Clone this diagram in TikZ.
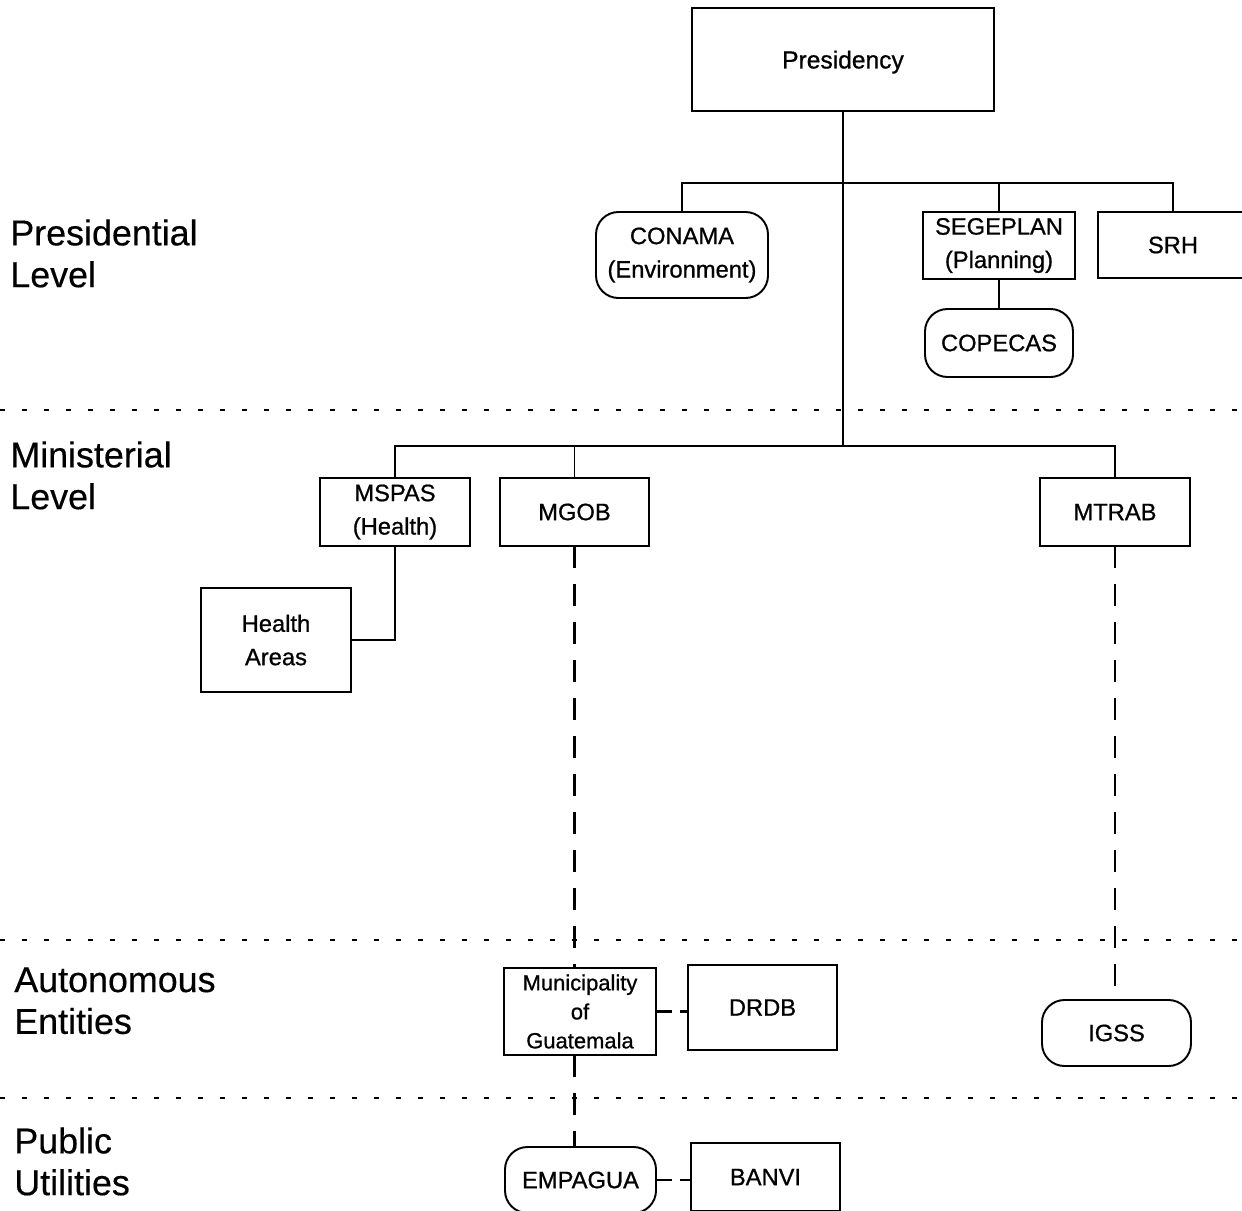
\documentclass[tikz,border=0pt]{standalone}
\usepackage{fontspec}
\setmainfont{Liberation Sans}
\newfontfamily\boxfont[FakeBold=0.8]{Liberation Sans}
\newfontfamily\lvlfont[FakeBold=0.4]{Liberation Sans}
\begin{document}
\begin{tikzpicture}[x=0.02cm,y=-0.02cm,
  box/.style={draw, line width=1.1pt, inner sep=0pt, outer sep=0pt, align=center, font=\boxfont\fontsize{13.5}{19}\selectfont},
  rbox/.style={box, rounded corners=0.45cm},
  sz/.style 2 args={minimum width=#1*0.02cm, minimum height=#2*0.02cm},
  conn/.style={line width=1.1pt},
  dconn/.style={line width=1.2pt, dash pattern=on 0.44cm off 0.32cm},
  sdash/.style={line width=1.2pt, dash pattern=on 0.32cm off 0.16cm},
  sep/.style={line width=1pt, dash pattern=on 0.1cm off 0.34cm},
  lvl/.style={anchor=north west, inner sep=0pt, align=left, font=\lvlfont\fontsize{20.4}{23.8}\selectfont}]
\useasboundingbox (0,0) rectangle (1242,1211);

% level separators
\draw[sep] (0,410) -- (1242,410);
\draw[sep] (0,940) -- (1242,940);
\draw[sep] (0,1098) -- (1242,1098);

% level labels
\node[lvl] (lpres) at (10,219) {Presidential\\Level};
\node[lvl] (lmin) at (10,441) {Ministerial\\Level};
\node[lvl] (laut) at (14,967) {Autonomous\\Entities};
\node[lvl] (lpub) at (14,1127) {Public\\Utilities};

% nodes
\node[box,sz={302}{103},text depth=0pt,font=\boxfont\fontsize{14}{19}\selectfont] (pres) at (843,59.5) {Presidency};
\node[rbox,sz={172}{86}] (conama) at (682,255) {CONAMA\\(Environment)};
\node[box,sz={152}{67}] (segeplan) at (999,245.5) {SEGEPLAN\\(Planning)};
\node[box,sz={150}{66}] (srh) at (1173,245) {SRH};
\node[rbox,sz={148}{68}] (copecas) at (999,343) {COPECAS};
\node[box,sz={150}{68}] (mspas) at (395,512) {MSPAS\\(Health)};
\node[box,sz={149}{68}] (mgob) at (574.5,512) {MGOB};
\node[box,sz={150}{68}] (mtrab) at (1115,512) {MTRAB};
\node[box,sz={150}{104}] (health) at (276,640) {Health\\Areas};
\node[box,sz={152}{87},font=\boxfont\fontsize{12.5}{16.5}\selectfont] (muni) at (580,1011.5) {Municipality\\of\\Guatemala};
\node[box,sz={149}{85}] (drdb) at (762.5,1007.5) {DRDB};
\node[rbox,sz={149}{66}] (igss) at (1116.5,1033) {IGSS};
\node[rbox,sz={151}{66}] (empagua) at (580.5,1180) {EMPAGUA};
\node[box,sz={149}{68}] (banvi) at (765.5,1177) {BANVI};

\coordinate (pb) at (843,183);
\coordinate (mb) at (843,446);

% connectors
\draw[conn] (pres.south) -- (mb);
\draw[conn] (conama.north) |- (pb) -| (srh.north);
\draw[conn] (segeplan.north) -- (segeplan.north |- pb);
\draw[conn] (segeplan.south) -- (copecas.north);
\draw[conn] (mspas.north) |- (mb) -| (mtrab.north);
\draw[conn] (mgob.north) -- (mgob.north |- mb);
\draw[conn] (mspas.south) |- (health.east);
\draw[dconn] (mgob.south) -- (mgob.south |- muni.north);
\draw[dconn] (mgob.south |- muni.south) -- (mgob.south |- empagua.north);
\draw[dconn] (mtrab.south) -- (mtrab.south |- igss.north);
\draw[sdash] (muni.east) -- (muni.east -| drdb.west);
\draw[sdash] (empagua.east) -- (empagua.east -| banvi.west);
\end{tikzpicture}
\end{document}
